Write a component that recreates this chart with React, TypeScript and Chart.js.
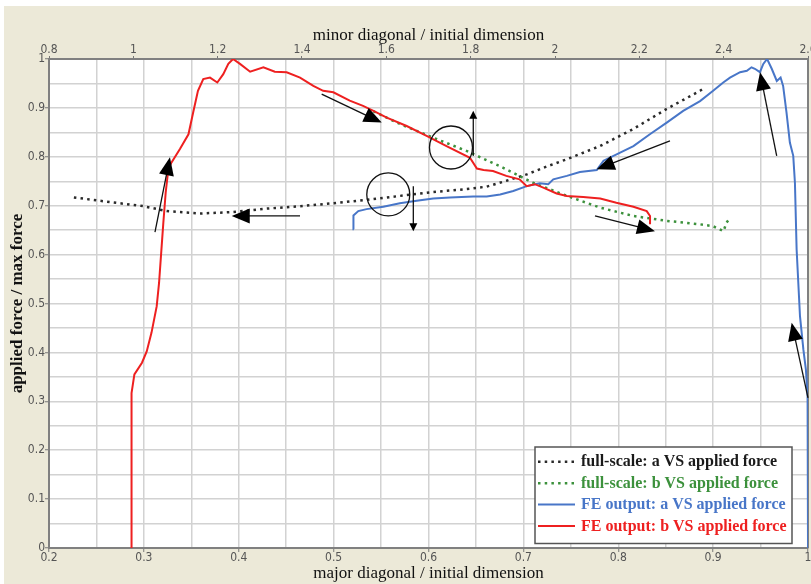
import React, { useEffect, useRef } from 'react';
import { Chart, registerables } from 'chart.js';

Chart.register(...registerables);

// ---- data ----
// full-scale: a VS applied force (top axis: minor diagonal)
const fullScaleAX = [0.859, 0.921, 1.024, 1.079, 1.158, 1.237, 1.316, 1.395, 1.474, 1.553, 1.632, 1.711, 1.791, 1.838, 1.885, 1.933, 1.98, 2.028, 2.107, 2.186, 2.265, 2.344, 2.356];
const fullScaleAY = [0.717, 0.71, 0.699, 0.689, 0.684, 0.687, 0.694, 0.699, 0.705, 0.712, 0.72, 0.728, 0.734, 0.739, 0.751, 0.764, 0.78, 0.795, 0.822, 0.857, 0.898, 0.935, 0.942];

// full-scale: b VS applied force (bottom axis: major diagonal)
const fullScaleBX = [0.542, 0.57, 0.605, 0.64, 0.675, 0.71, 0.746, 0.781, 0.816, 0.851, 0.886, 0.9, 0.911, 0.914, 0.917];
const fullScaleBY = [0.893, 0.867, 0.839, 0.812, 0.781, 0.747, 0.72, 0.696, 0.679, 0.669, 0.662, 0.658, 0.648, 0.665, 0.673];

// FE output: a VS applied force (top axis)
const feAX = [1.523, 1.522, 1.5335, 1.553, 1.593, 1.632, 1.672, 1.711, 1.751, 1.806, 1.838, 1.87, 1.901, 1.933, 1.964, 1.984, 1.996, 2.028, 2.059, 2.099, 2.115, 2.146, 2.186, 2.225, 2.265, 2.304, 2.344, 2.375, 2.399, 2.415, 2.439, 2.455, 2.466, 2.474, 2.486, 2.494, 2.503, 2.514, 2.526, 2.535, 2.541, 2.549, 2.557, 2.565, 2.569, 2.573, 2.581, 2.589, 2.595, 2.599, 2.6];
const feAY = [0.652, 0.68, 0.689, 0.693, 0.698, 0.705, 0.71, 0.7145, 0.717, 0.719, 0.719, 0.723, 0.73, 0.74, 0.746, 0.744, 0.754, 0.761, 0.769, 0.773, 0.792, 0.805, 0.822, 0.846, 0.87, 0.894, 0.914, 0.935, 0.952, 0.962, 0.973, 0.976, 0.983, 0.98, 0.973, 0.99, 1.0, 0.98, 0.955, 0.962, 0.945, 0.891, 0.829, 0.802, 0.747, 0.611, 0.474, 0.406, 0.365, 0.31, 0];

// FE output: b VS applied force (bottom axis)
const feBX = [0.287, 0.287, 0.29, 0.298, 0.303, 0.308, 0.3135, 0.316, 0.318, 0.3205, 0.323, 0.3258, 0.329, 0.338, 0.347, 0.352, 0.357, 0.3626, 0.3697, 0.3774, 0.3837, 0.389, 0.394, 0.4013, 0.412, 0.426, 0.438, 0.4505, 0.4646, 0.4786, 0.489, 0.4997, 0.517, 0.531, 0.542, 0.556, 0.577, 0.598, 0.619, 0.6437, 0.651, 0.658, 0.668, 0.682, 0.696, 0.7035, 0.712, 0.721, 0.735, 0.7457, 0.763, 0.781, 0.798, 0.816, 0.83, 0.8335, 0.8335];
const feBY = [0, 0.317, 0.355, 0.379, 0.402, 0.44, 0.494, 0.542, 0.597, 0.665, 0.727, 0.775, 0.788, 0.816, 0.846, 0.891, 0.935, 0.959, 0.962, 0.952, 0.969, 0.99, 1.0, 0.99, 0.974, 0.983, 0.974, 0.973, 0.962, 0.945, 0.935, 0.932, 0.915, 0.904, 0.894, 0.88, 0.863, 0.843, 0.822, 0.798, 0.776, 0.773, 0.771, 0.761, 0.754, 0.74, 0.744, 0.737, 0.725, 0.72, 0.718, 0.7145, 0.706, 0.698, 0.689, 0.679, 0.662];

const legendLabels = [
  'full-scale: a VS applied force',
  'full-scale: b VS applied force',
  'FE output: a VS applied force',
  'FE output: b VS applied force',
];

// annotation arrows (bottom-axis x, y)
const arrowFromX = [0.3117, 0.4646, 0.4874, 0.6472, 0.584, 0.8545, 0.7755, 0.967, 1.0];
const arrowFromY = [0.646, 0.679, 0.928, 0.802, 0.74, 0.8326, 0.679, 0.802, 0.307];
const arrowToX = [0.3275, 0.3926, 0.5507, 0.6472, 0.584, 0.7773, 0.8387, 0.9494, 0.9828];
const arrowToY = [0.799, 0.679, 0.87, 0.894, 0.648, 0.7746, 0.648, 0.9727, 0.4605];
const arrowSmallHead = [false, false, false, true, true, false, false, false, false];
// annotation circles (bottom-axis x, y)
const circleX = [0.6237, 0.5576];
const circleY = [0.819, 0.723];

const BLACK = '#2a2a2a';
const GREEN = 'rgb(60,145,60)';
const BLUE = 'rgb(72,118,200)';
const RED = 'rgb(238,32,32)';
const DOT = [2.5, 4.2];

const pts = (xs: number[], ys: number[]) => xs.map((x, i) => ({ x, y: ys[i] }));
const fmt = (v: number) => String(Math.round(v * 10) / 10);

const tickFont = { family: '"Liberation Sans Narrow", "DejaVu Sans Condensed", "Liberation Sans", sans-serif', size: 12, lineHeight: 1 };
const titleFont = { family: '"Liberation Serif", "Times New Roman", serif', size: 17, lineHeight: 1 };
const yTitleFont = { family: '"Liberation Serif", "Times New Roman", serif', size: 17, weight: 'bold', lineHeight: 1 };

function drawArrow(ctx: CanvasRenderingContext2D, x1: number, y1: number, x2: number, y2: number, len: number, hw: number) {
  const a = Math.atan2(y2 - y1, x2 - x1);
  const c = Math.cos(a), s = Math.sin(a);
  const bx = x2 - len * c, by = y2 - len * s;
  ctx.beginPath();
  ctx.moveTo(x1, y1);
  ctx.lineTo(bx + c, by + s);
  ctx.stroke();
  ctx.beginPath();
  ctx.moveTo(x2, y2);
  ctx.lineTo(bx - hw * s, by + hw * c);
  ctx.lineTo(bx + hw * s, by - hw * c);
  ctx.closePath();
  ctx.fill();
}

const decor = {
  id: 'decor',
  beforeDraw(chart: any) {
    const { ctx, chartArea, width, height } = chart;
    ctx.save();
    ctx.fillStyle = '#ECE9D8';
    ctx.fillRect(0, 0, width, height);
    ctx.fillStyle = '#ffffff';
    ctx.fillRect(chartArea.left, chartArea.top, chartArea.right - chartArea.left, chartArea.bottom - chartArea.top);
    ctx.restore();
  },
  beforeDatasetsDraw(chart: any) {
    const { ctx, chartArea } = chart;
    ctx.save();
    ctx.strokeStyle = '#808080';
    ctx.lineWidth = 2;
    ctx.beginPath();
    ctx.moveTo(chartArea.right, chartArea.top);
    ctx.lineTo(chartArea.right, chartArea.bottom);
    ctx.stroke();
    ctx.restore();
  },
  afterDatasetsDraw(chart: any) {
    const { ctx } = chart;
    const xs = chart.scales.x, ys = chart.scales.y;
    ctx.save();
    ctx.strokeStyle = '#111';
    ctx.fillStyle = '#000';
    ctx.lineWidth = 1.3;
    for (let i = 0; i < arrowFromX.length; i++) {
      const small = arrowSmallHead[i];
      drawArrow(
        ctx,
        xs.getPixelForValue(arrowFromX[i]), ys.getPixelForValue(arrowFromY[i]),
        xs.getPixelForValue(arrowToX[i]), ys.getPixelForValue(arrowToY[i]),
        small ? 8 : 18, small ? 4 : 7.5,
      );
    }
    for (let i = 0; i < circleX.length; i++) {
      ctx.beginPath();
      ctx.arc(xs.getPixelForValue(circleX[i]), ys.getPixelForValue(circleY[i]), 21.5, 0, Math.PI * 2);
      ctx.stroke();
    }
    ctx.restore();
  },
  afterDraw(chart: any) {
    const { ctx, chartArea } = chart;
    const w = 257, h = 96.5;
    const lx = chartArea.right - 16 - w;
    const ly = chartArea.bottom - 4.5 - h;
    ctx.save();
    ctx.fillStyle = '#fff';
    ctx.fillRect(lx, ly, w, h);
    ctx.strokeStyle = '#555';
    ctx.lineWidth = 1.5;
    ctx.strokeRect(lx, ly, w, h);
    const colors = [BLACK, GREEN, BLUE, RED];
    const textColors = ['#1a1a1a', GREEN, BLUE, RED];
    ctx.font = 'bold 16px "Liberation Serif", "Times New Roman", serif';
    ctx.textBaseline = 'middle';
    ctx.textAlign = 'left';
    for (let i = 0; i < legendLabels.length; i++) {
      const y = ly + 14.7 + i * 21.45;
      ctx.strokeStyle = colors[i];
      if (i < 2) {
        ctx.lineWidth = 2.5;
        ctx.setLineDash(DOT);
      } else {
        ctx.lineWidth = 2;
        ctx.setLineDash([]);
      }
      ctx.beginPath();
      ctx.moveTo(lx + 3, y);
      ctx.lineTo(lx + 40, y);
      ctx.stroke();
      ctx.setLineDash([]);
      ctx.fillStyle = textColors[i];
      ctx.fillText(legendLabels[i], lx + 46, y + 0.5);
    }
    ctx.restore();
  },
};

export default function App() {
  const ref = useRef<HTMLCanvasElement | null>(null);
  useEffect(() => {
    if (!ref.current) return;
    const gridColor = '#d2d2d2';
    const tickCol = (c: any) => (c.index % 2 === 0 ? '#777' : 'rgba(0,0,0,0)');
    const chart = new Chart(ref.current, {
      type: 'scatter',
      data: {
        datasets: [
          { label: legendLabels[3], data: pts(feBX, feBY), xAxisID: 'x', yAxisID: 'y', showLine: true, borderColor: RED, borderWidth: 2, pointRadius: 0, order: 0 },
          { label: legendLabels[2], data: pts(feAX, feAY), xAxisID: 'x2', yAxisID: 'y', showLine: true, borderColor: BLUE, borderWidth: 2, pointRadius: 0, order: 1 },
          { label: legendLabels[1], data: pts(fullScaleBX, fullScaleBY), xAxisID: 'x', yAxisID: 'y', showLine: true, borderColor: GREEN, borderWidth: 2.5, borderDash: DOT, borderCapStyle: 'butt', pointRadius: 0, order: 2 },
          { label: legendLabels[0], data: pts(fullScaleAX, fullScaleAY), xAxisID: 'x2', yAxisID: 'y', showLine: true, borderColor: BLACK, borderWidth: 2.5, borderDash: DOT, borderCapStyle: 'butt', pointRadius: 0, order: 3 },
        ] as any,
      },
      options: {
        animation: false,
        responsive: false,
        devicePixelRatio: 1,
        layout: { padding: { left: 0, right: 3, top: 0, bottom: 0 }, autoPadding: false } as any,
        plugins: { legend: { display: false }, tooltip: { enabled: false } },
        scales: {
          x: {
            type: 'linear', position: 'bottom', min: 0.2, max: 1.0,
            ticks: { stepSize: 0.05, autoSkip: false, maxRotation: 0, padding: 0, color: '#555', font: tickFont, callback: (v: any, i: number) => (i % 2 === 0 ? fmt(Number(v)) : '') },
            grid: { color: gridColor, lineWidth: 1.5, tickLength: 4, tickWidth: 1, tickColor: tickCol },
            border: { color: '#808080', width: 2 },
            title: { display: true, text: 'major diagonal / initial dimension', color: '#111', font: titleFont, padding: { top: 0, bottom: 1.5 } },
            afterFit: (s: any) => { s.height = 36; s.paddingLeft = 0; s.paddingRight = 0; },
          },
          x2: {
            type: 'linear', position: 'top', min: 0.8, max: 2.6,
            ticks: { stepSize: 0.2, autoSkip: false, maxRotation: 0, padding: 0, color: '#555', font: tickFont, callback: (v: any) => fmt(Number(v)) },
            grid: { drawOnChartArea: false, tickLength: 3, tickWidth: 1, tickColor: '#777' },
            border: { color: '#808080', width: 2 },
            title: { display: true, text: 'minor diagonal / initial dimension', color: '#111', font: titleFont, padding: { top: 21.5, bottom: 0 } },
            afterFit: (s: any) => { s.height = 53; s.paddingLeft = 0; s.paddingRight = 0; },
          },
          y: {
            type: 'linear', position: 'left', min: 0, max: 1,
            ticks: { stepSize: 0.05, autoSkip: false, padding: 0, color: '#555', font: tickFont, callback: (v: any, i: number) => (i % 2 === 0 ? fmt(Number(v)) : '') },
            grid: { color: gridColor, lineWidth: 1.5, tickLength: 4, tickWidth: 1, tickColor: tickCol },
            border: { color: '#808080', width: 2 },
            title: { display: true, text: 'applied force / max force', color: '#111', font: yTitleFont, padding: { top: 5.5, bottom: 0 } },
            afterFit: (s: any) => { s.width = 45; s.paddingTop = 0; s.paddingBottom = 0; },
          },
        },
      } as any,
      plugins: [decor],
    });
    return () => chart.destroy();
  }, []);
  return (
    <div style={{ position: 'absolute', left: 4, top: 6, width: 807, height: 578 }}>
      <canvas ref={ref} width={807} height={578} style={{ display: 'block', width: 807, height: 578 }} />
    </div>
  );
}
